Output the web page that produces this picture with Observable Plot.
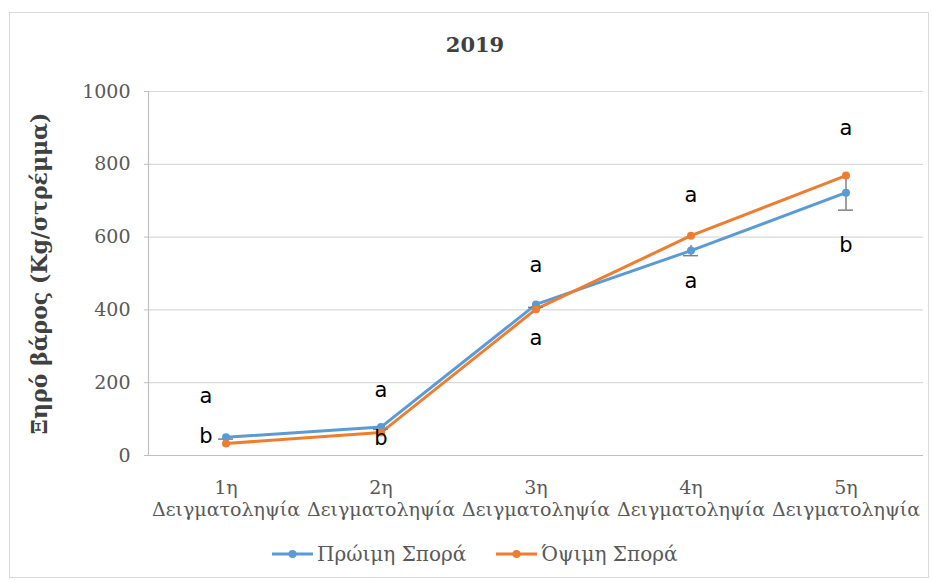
<!DOCTYPE html>
<html>
<head>
<meta charset="utf-8">
<script src="https://cdn.jsdelivr.net/npm/d3@7"></script>
<script src="https://cdn.jsdelivr.net/npm/@observablehq/plot@0.6"></script>
<style>
  html, body { margin: 0; padding: 0; background: #fff; }
  #chart { position: relative; width: 932px; height: 582px; overflow: hidden; }
  #border { position: absolute; left: 9px; top: 12px; width: 920px; height: 566px; border: 1px solid #d9d9d9; box-sizing: border-box; }
  #title { position: absolute; left: 0; width: 950px; top: 32px; text-align: center; font: bold 21px "DejaVu Serif"; color: #404040; }
  #plot { position: absolute; left: 0; top: 0; }
  #legend { position: absolute; top: 542px; left: 272px; display: flex; align-items: center; font: 20px "DejaVu Serif"; color: #595959; }
  #legend .item { display: flex; align-items: center; margin-right: 30px; }
  #legend svg { margin-right: 4px; }
</style>
</head>
<body>
<div id="chart">
  <div id="border"></div>
  <div id="title"></div>
  <div id="plot"></div>
  <div id="legend"></div>
</div>
<script>
// Sampling dates and dry weight (kg per stremma) for the two sowing times
const chartTitle = "2019";
const yLabel = "Ξηρό βάρος (Kg/στρέμμα)";
const samplings = ["1η Δειγματοληψία", "2η Δειγματοληψία", "3η Δειγματοληψία", "4η Δειγματοληψία", "5η Δειγματοληψία"];
const seriesNames = ["Πρώιμη Σπορά", "Όψιμη Σπορά"];
const earlyValues = [50, 78, 415, 563, 722];
const earlyErrors = [5, 6, 8, 14, 48];
const lateValues = [33, 63, 402, 604, 769];
const lateErrors = [3, 4, 5, 6, 6];
const yTicks = [0, 200, 400, 600, 800, 1000];

// Significance letters per sampling (upper and lower), with their value-axis anchor
const lettersUpper = ["a", "a", "a", "a", "a"];
const lettersUpperAt = [162, 179, 522, 714, 898];
const lettersLower = ["b", "b", "a", "a", "b"];
const lettersLowerAt = [52, 47, 321, 478, 577];

const colors = ["#5B9BD5", "#ED7D31"];

const rows = [];
samplings.forEach((s, i) => {
  rows.push({sampling: s, series: seriesNames[0], value: earlyValues[i], err: earlyErrors[i]});
});
samplings.forEach((s, i) => {
  rows.push({sampling: s, series: seriesNames[1], value: lateValues[i], err: lateErrors[i]});
});
const letters = [];
samplings.forEach((s, i) => {
  letters.push({i, sampling: s, text: lettersUpper[i], y: lettersUpperAt[i]});
  letters.push({i, sampling: s, text: lettersLower[i], y: lettersLowerAt[i]});
});

const early = rows.filter(d => d.series === seriesNames[0]);

document.getElementById("title").textContent = chartTitle;

const plot = Plot.plot({
  width: 932,
  height: 582,
  marginLeft: 148,
  marginRight: 9,
  marginTop: 91,
  marginBottom: 127,
  style: {background: "transparent", overflow: "visible"},
  x: {type: "band", domain: samplings, padding: 0},
  y: {domain: [0, 1000]},
  color: {domain: seriesNames, range: colors},
  marks: [
    Plot.gridY(yTicks.slice(1), {stroke: "#d9d9d9", strokeOpacity: 1, strokeWidth: 1.2}),
    Plot.frame({anchor: "left", stroke: "#bfbfbf", strokeWidth: 1.2}),
    Plot.ruleY([0], {stroke: "#bfbfbf", strokeWidth: 1.2}),
    Plot.axisY({
      ticks: yTicks, tickSize: 4, tickPadding: 14, stroke: "#bfbfbf",
      tickFormat: d => String(d),
      fontSize: 19, fontFamily: "DejaVu Serif", fill: "#595959", label: null
    }),
    Plot.axisX({
      tickSize: 0, tickPadding: 22, fontSize: 19, fontFamily: "DejaVu Serif",
      fill: "#595959", lineHeight: 1.2, label: null,
      tickFormat: d => d.replace(" ", "\n")
    }),
    Plot.text([yLabel], {
      frameAnchor: "left", textAnchor: "middle", rotate: -90, dx: -109,
      fontSize: 22, fontWeight: "bold", fontFamily: "DejaVu Serif", fill: "#404040"
    }),
    Plot.lineY(rows, {x: "sampling", y: "value", z: "series", stroke: "series", strokeWidth: 3}),
    Plot.ruleX(early, {x: "sampling", y1: d => d.value - d.err, y2: d => d.value + d.err, stroke: "#808080", strokeWidth: 1.5}),
    Plot.tickY(early, {x: "sampling", y: d => d.value - d.err, insetLeft: 70, insetRight: 70, stroke: "#808080", strokeWidth: 1.5}),
    Plot.dot(rows, {x: "sampling", y: "value", fill: "series", r: 4}),
    Plot.text(letters, {
      filter: d => d.i === 0, x: "sampling", y: "y", text: "text", dx: -20,
      fontSize: 21, fontFamily: "DejaVu Sans", fill: "#000"
    }),
    Plot.text(letters, {
      filter: d => d.i > 0, x: "sampling", y: "y", text: "text",
      fontSize: 21, fontFamily: "DejaVu Sans", fill: "#000"
    })
  ]
});
document.getElementById("plot").appendChild(plot);

// Legend: line-with-marker swatch per series
const legend = document.getElementById("legend");
seriesNames.forEach((name, i) => {
  const item = document.createElement("div");
  item.className = "item";
  item.innerHTML = `<svg width="41" height="10"><line x1="0" y1="5" x2="41" y2="5" stroke="${colors[i]}" stroke-width="3"/><circle cx="20.5" cy="5" r="4" fill="${colors[i]}"/></svg><span>${name}</span>`;
  legend.appendChild(item);
});
</script>
</body>
</html>
